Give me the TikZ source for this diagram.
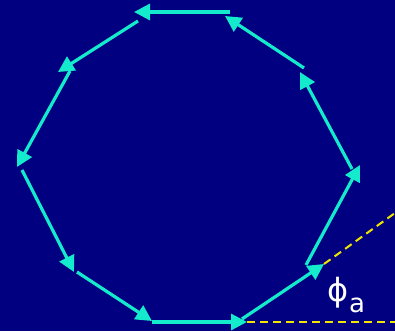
\documentclass[tikz,border=0pt]{standalone}
\usepackage{fontspec}
\newfontfamily\dejavu{DejaVu Sans}
\usetikzlibrary{arrows.meta}
\definecolor{bgnavy}{RGB}{0,0,128}
\definecolor{arrowcyan}{RGB}{20,235,205}
\definecolor{dashyellow}{RGB}{240,230,0}
\tikzset{
  vec/.style={draw=arrowcyan, line width=3.2pt, -{Triangle[length=16pt,width=16pt]}},
  guide/.style={draw=dashyellow, line width=2pt, dash pattern=on 8pt off 5pt},
  lbl/.style={text=white, inner sep=0pt, font=\dejavu\fontsize{32}{34}\selectfont}
}
\begin{document}
\begin{tikzpicture}[x=1pt,y=-1pt]
\fill[bgnavy] (0,0) rectangle (395,331);
\useasboundingbox (0,0) rectangle (395,331);
% arrow start / end points
\coordinate (s1) at (152,322);  \coordinate (e1) at (247,322);
\coordinate (s2) at (242,319);  \coordinate (e2) at (324,264);
\coordinate (s3) at (306,265);  \coordinate (e3) at (360,165);
\coordinate (s4) at (352,169);  \coordinate (e4) at (300,72);
\coordinate (s5) at (304,68);   \coordinate (e5) at (225,16);
\coordinate (s6) at (230,12);   \coordinate (e6) at (134,12);
\coordinate (s7) at (138,21);   \coordinate (e7) at (58,72);
\coordinate (s8) at (70,71);    \coordinate (e8) at (17,167);
\coordinate (s9) at (22,170);   \coordinate (e9) at (74,272);
\coordinate (s10) at (77,272);  \coordinate (e10) at (152,321);
\coordinate (g1) at (395,322);
\coordinate (g2) at (395,213);
% guides
\draw[guide] (e1) -- (g1);
\draw[guide] (e2) -- (g2);
% arrows
\foreach \i in {1,...,10}{\draw[vec] (s\i) -- (e\i);}
% label
\node[lbl] (phi) at (338,293) {ϕ};
\node[lbl, font=\dejavu\fontsize{26}{28}\selectfont, anchor=base west] (suba) at (349,312) {a};
\end{tikzpicture}
\end{document}
